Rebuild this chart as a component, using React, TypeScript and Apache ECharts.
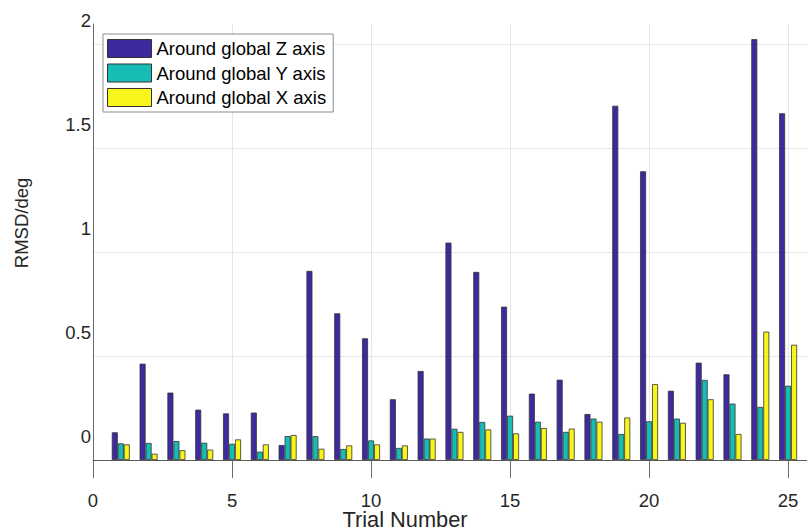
import React, { useEffect, useRef } from "react";
import * as echarts from "echarts";

const trials = [1, 2, 3, 4, 5, 6, 7, 8, 9, 10, 11, 12, 13, 14, 15, 16, 17, 18, 19, 20, 21, 22, 23, 24, 25];
const aroundZ = [0.133, 0.463, 0.324, 0.242, 0.224, 0.228, 0.072, 0.909, 0.705, 0.585, 0.292, 0.428, 1.045, 0.904, 0.737, 0.319, 0.386, 0.221, 1.703, 1.388, 0.333, 0.468, 0.412, 2.023, 1.667];
const aroundY = [0.080, 0.082, 0.091, 0.083, 0.078, 0.040, 0.115, 0.115, 0.053, 0.094, 0.058, 0.103, 0.150, 0.183, 0.213, 0.184, 0.135, 0.199, 0.125, 0.186, 0.199, 0.385, 0.271, 0.255, 0.357];
const aroundX = [0.075, 0.030, 0.047, 0.050, 0.099, 0.075, 0.120, 0.054, 0.070, 0.075, 0.070, 0.103, 0.135, 0.147, 0.128, 0.154, 0.151, 0.184, 0.204, 0.365, 0.179, 0.292, 0.125, 0.617, 0.554];
const seriesNames = ["Around global Z axis", "Around global Y axis", "Around global X axis"];
const seriesColors = ["#3d2a9f", "#17bdb4", "#f8f51a"];

const FONT = "Liberation Sans";
const TXT = "#262626";

export default function App() {
  const ref = useRef<HTMLDivElement>(null);
  useEffect(() => {
    if (!ref.current) return;
    const chart = echarts.init(ref.current, null, { renderer: "svg" });
    const values = [aroundZ, aroundY, aroundX];
    chart.setOption({
      animation: false,
      backgroundColor: "#ffffff",
      textStyle: { fontFamily: FONT },
      grid: { left: 93, right: 0, top: 24, bottom: 72, containLabel: false, outerBoundsMode: "none" },
      legend: {
        orient: "vertical",
        left: 103,
        top: 34,
        padding: [5, 7, 5, 4],
        itemGap: 5.5,
        itemWidth: 44,
        itemHeight: 18,
        icon: "rect",
        backgroundColor: "#ffffff",
        borderColor: "#8c8c8c",
        borderWidth: 1,
        textStyle: { fontFamily: FONT, fontSize: 18.5, color: "#000" },
        itemStyle: { borderColor: "#333", borderWidth: 1 },
        data: seriesNames,
      },
      xAxis: {
        type: "value",
        min: 0,
        max: 25.68,
        interval: 5,
        name: "Trial Number",
        nameLocation: "middle",
        nameGap: 48,
        nameMoveOverlap: false,
        nameTextStyle: { fontFamily: FONT, fontSize: 21.8, color: TXT, padding: [0, 90, 0, 0] },
        axisLine: { show: true, onZero: false, lineStyle: { color: "#5a5a5a", width: 1 } },
        axisTick: { show: true, length: 18, lineStyle: { color: "#6a6a6a", width: 1 } },
        axisLabel: { margin: 32.5, lineHeight: 15, fontFamily: FONT, fontSize: 18.5, color: TXT, showMaxLabel: false },
        splitLine: { show: true, showMinLine: false, showMaxLine: false, lineStyle: { color: "#e6e6e6", width: 1 } },
      },
      yAxis: {
        type: "value",
        min: 0,
        max: 2.096,
        interval: 0.5,
        name: "RMSD/deg",
        nameLocation: "middle",
        nameGap: 62,
        nameMoveOverlap: false,
        nameTextStyle: { fontFamily: FONT, fontSize: 18.5, color: TXT, padding: [0, 0, 0, 38] },
        axisLine: { show: true, lineStyle: { color: "#6a6a6a", width: 1 } },
        axisTick: { show: false },
        axisLabel: {
          margin: 2,
          fontFamily: FONT,
          fontSize: 18.5,
          color: TXT,
          showMaxLabel: false,
          verticalAlign: "bottom",
          lineHeight: 47,
        },
        splitLine: { show: true, showMinLine: false, showMaxLine: false, lineStyle: { color: "#e6e6e6", width: 1 } },
      },
      series: seriesNames.map((name, i) => ({
        name,
        type: "bar",
        barWidth: 6,
        barGap: "0%",
        itemStyle: { color: seriesColors[i], borderColor: "#333", borderWidth: 0.8 },
        data: trials.map((t, k) => [t, values[i][k]]),
      })),
    });
    return () => chart.dispose();
  }, []);
  return <div ref={ref} style={{ position: "fixed", left: 0, top: 0, width: 807, height: 532 }} />;
}
